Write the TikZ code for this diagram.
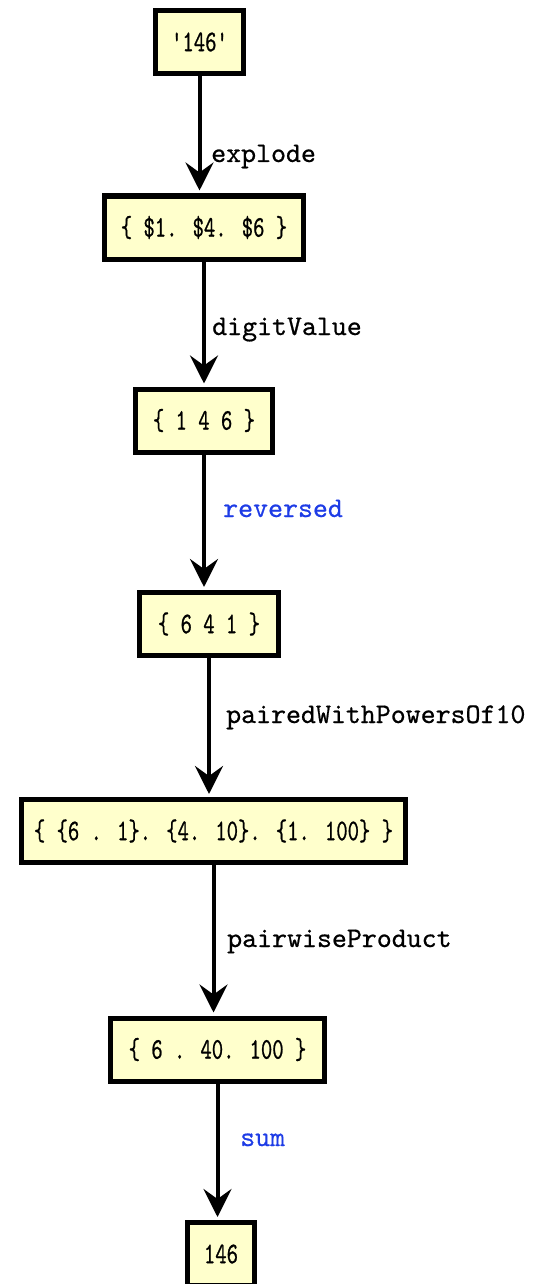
\documentclass[tikz,border=0pt]{standalone}
\usepackage{fontspec}
\usetikzlibrary{arrows.meta}
\newfontfamily\boxfont{lmmono10-regular}[Extension=.otf, FakeStretch=0.72, FakeBold=0.7]
\newfontfamily\edgefont{lmmono10-regular}[Extension=.otf, FakeBold=0.6]
\definecolor{boxfill}{RGB}{255,255,204}
\definecolor{fnblue}{RGB}{30,60,230}
\tikzset{
  valbox/.style={draw=black, line width=5pt, fill=boxfill, inner sep=0pt,
    minimum height=63pt, font=\boxfont\fontsize{30pt}{34pt}\selectfont},
  flow/.style={line width=4pt, shorten >=3pt,
    -{Stealth[length=28pt, width=28pt, inset=10pt]}},
  fnlabel/.style={anchor=base west, inner sep=0pt,
    font=\edgefont\fontsize{28.5pt}{32pt}\selectfont},
  fnblue/.style={fnlabel, text=fnblue}
}
\begin{document}
\begin{tikzpicture}[x=1pt, y=-1pt]
  \useasboundingbox (0,0) rectangle (540,1284);

  % value boxes, top to bottom
  \node[valbox, minimum width=88pt]  (s0) at (199.5,42)    {'146'};
  \node[valbox, minimum width=199pt] (s1) at (204,227.5)   {\{ \$1. \$4. \$6 \}};
  \node[valbox, minimum width=137pt] (s2) at (204,420.5)   {\{ 1 4 6 \}};
  \node[valbox, minimum width=139pt] (s3) at (209,624)     {\{ 6 4 1 \}};
  \node[valbox, minimum width=384pt] (s4) at (213.5,831)   {\{ \{6 . 1\}. \{4. 10\}. \{1. 100\} \}};
  \node[valbox, minimum width=214pt] (s5) at (217.5,1049.5){\{ 6 . 40. 100 \}};
  \node[valbox, minimum width=67pt]  (s6) at (221,1254)    {146};

  % transformation arrows
  \draw[flow] (s0.south) -- (s0.south |- s1.north);
  \draw[flow] (s1.south) -- (s1.south |- s2.north);
  \draw[flow] (s2.south) -- (s2.south |- s3.north);
  \draw[flow] (s3.south) -- (s3.south |- s4.north);
  \draw[flow] (s4.south) -- (s4.south |- s5.north);
  \draw[flow] (s5.south) -- (s5.south |- s6.north);

  % operation names
  \node[fnlabel] (l0) at (211,162)  {explode};
  \node[fnlabel] (l1) at (212,335)  {digitValue};
  \node[fnblue]  (l2) at (223,517)  {reversed};
  \node[fnlabel] (l3) at (226,723)  {pairedWithPowersOf10};
  \node[fnlabel] (l4) at (227,947)  {pairwiseProduct};
  \node[fnblue]  (l5) at (240,1146) {sum};
\end{tikzpicture}
\end{document}
